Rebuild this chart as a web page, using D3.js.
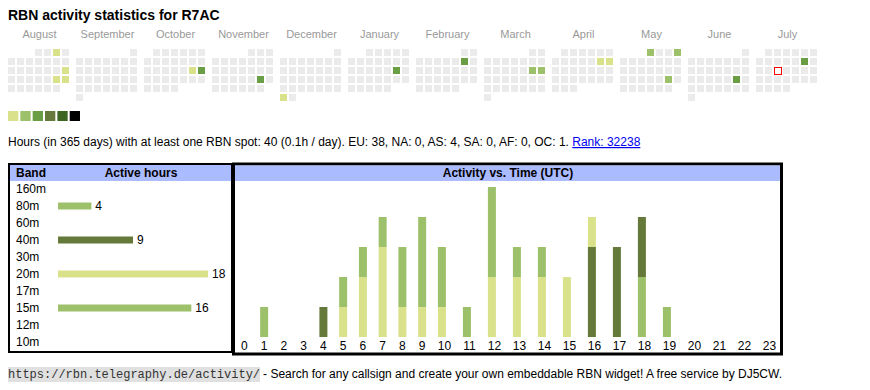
<!DOCTYPE html>
<html>
<head>
<meta charset="utf-8">
<script src="https://cdn.jsdelivr.net/npm/d3@7"></script>
<style>
  body { margin: 0; background: #fff; }
  svg text { font-family: "Liberation Sans", Arial, sans-serif; }
  svg text.mono { font-family: "Liberation Mono", "DejaVu Sans Mono", monospace; }
</style>
</head>
<body>
<script>
const width = 870;
const height = 390;

// data
const callsign = "R7AC";
const calStart = new Date(2024, 7, 1);
const calEnd = new Date(2025, 7, 1);
const today = "2025-07-16";
const activeDays = [
  ["2024-08-03", 1], ["2024-08-18", 1], ["2024-08-24", 1], ["2024-08-25", 1],
  ["2024-10-19", 1], ["2024-10-20", 3], ["2024-11-23", 3], ["2024-12-30", 1],
  ["2025-01-18", 3], ["2025-02-08", 3], ["2025-03-15", 2], ["2025-03-16", 2],
  ["2025-04-12", 1], ["2025-04-13", 1], ["2025-05-01", 2], ["2025-05-04", 2],
  ["2025-05-24", 2], ["2025-06-21", 3], ["2025-07-12", 3]
];
const levelColors = ["#d9e18a", "#9dc06a", "#6a9e45", "#657a3a", "#3b6520", "#000000"];

const bands = ["160m", "80m", "60m", "40m", "30m", "20m", "17m", "15m", "12m", "10m"];
const bandHours = [0, 4, 0, 9, 0, 18, 0, 16, 0, 0];
const bandColors = { "80m": "#9dc06a", "40m": "#657a3a", "20m": "#d9e18a", "15m": "#9dc06a" };

const hours = d3.range(24);
const hours80 = [0,1,0,0,0,0,0,0,0,0,0,0,0,0,0,0,0,0,2,1,0,0,0,0];
const hours40 = [0,0,0,0,1,0,0,0,0,0,0,0,0,0,0,0,3,3,2,0,0,0,0,0];
const hours20 = [0,0,0,0,0,1,2,3,1,1,1,0,2,2,2,2,1,0,0,0,0,0,0,0];
const hours15 = [0,0,0,0,0,1,1,1,2,3,2,1,3,1,1,0,0,0,0,0,0,0,0,0];

const summary = "Hours (in 365 days) with at least one RBN spot: 40 (0.1h / day). EU: 38, NA: 0, AS: 4, SA: 0, AF: 0, OC: 1. ";
const rankText = "Rank: 32238";

const svg = d3.select("body")
    .append("svg")
    .attr("width", width)
    .attr("height", height);

// title
svg.append("text")
    .attr("x", 8).attr("y", 20)
    .attr("font-size", 14).attr("font-weight", "bold")
    .text("RBN activity statistics for " + callsign);

// calendar
const fmt = d3.timeFormat("%Y-%m-%d");
const levelOf = new Map(activeDays);
const months = d3.timeMonths(calStart, calEnd);
const monthX = d3.scaleBand().domain(d3.range(months.length)).range([8, 819]).paddingInner(5 / 68);
const dayX = d3.scaleBand().domain(d3.range(7)).range([0, 61]).paddingInner(2 / 9);
const weekY = d3.scaleBand().domain(d3.range(6)).range([49, 101]).paddingInner(2 / 9);

const monthG = svg.selectAll("g.month")
    .data(months)
    .enter()
    .append("g")
    .attr("class", "month")
    .attr("transform", (d, i) => `translate(${monthX(i)},0)`);

monthG.append("text")
    .attr("x", monthX.bandwidth() / 2)
    .attr("y", 38)
    .attr("text-anchor", "middle")
    .attr("font-size", 11)
    .attr("fill", "#999")
    .text(d3.timeFormat("%B"));

monthG.selectAll("rect.day")
    .data(m => d3.timeDays(m, d3.timeMonth.offset(m, 1)).map(d => ({ m, d })))
    .enter()
    .append("rect")
    .attr("class", "day")
    .attr("x", o => dayX((o.d.getDay() + 6) % 7))
    .attr("y", o => weekY(d3.timeMonday.count(o.m, o.d)))
    .attr("width", dayX.bandwidth())
    .attr("height", weekY.bandwidth())
    .attr("fill", o => {
        const lv = levelOf.get(fmt(o.d));
        return lv ? levelColors[lv - 1] : "#ebebeb";
    })
    .attr("stroke", o => fmt(o.d) === today ? "red" : "none")
    .attr("stroke-width", 1)
    .each(function(o) {
        if (fmt(o.d) === today) {
            const r = d3.select(this);
            r.attr("x", +r.attr("x") + 0.5).attr("y", +r.attr("y") + 0.5).attr("fill", "#fff");
        }
    });

// legend
const legendX = d3.scaleBand().domain(d3.range(levelColors.length)).range([8, 80]).paddingInner(2 / 12);
svg.selectAll("rect.legend")
    .data(levelColors)
    .enter()
    .append("rect")
    .attr("class", "legend")
    .attr("x", (d, i) => legendX(i))
    .attr("y", 111)
    .attr("width", legendX.bandwidth())
    .attr("height", 10)
    .attr("fill", d => d);

// summary line
const sumText = svg.append("text")
    .attr("x", 8).attr("y", 146)
    .attr("font-size", 12);
sumText.append("tspan").text(summary);
sumText.append("tspan")
    .attr("fill", "#0000ee")
    .attr("text-decoration", "underline")
    .style("text-decoration", "underline")
    .text(rankText);

// band panel
const bandG = svg.append("g");
bandG.append("rect")
    .attr("x", 9).attr("y", 164).attr("width", 223).attr("height", 188)
    .attr("fill", "#fff").attr("stroke", "#000").attr("stroke-width", 2);
bandG.append("rect")
    .attr("x", 10).attr("y", 165).attr("width", 221).attr("height", 16)
    .attr("fill", "#abbbff");
bandG.append("text")
    .attr("x", 16).attr("y", 177)
    .attr("font-size", 12).attr("font-weight", "bold")
    .text("Band");
bandG.append("text")
    .attr("x", 141).attr("y", 177)
    .attr("text-anchor", "middle")
    .attr("font-size", 12).attr("font-weight", "bold")
    .text("Active hours");

const bandY = d3.scalePoint().domain(bands).range([189, 342]);
const bandX = d3.scaleLinear().domain([0, 18]).range([58, 208]);

bandG.selectAll("text.band")
    .data(bands)
    .enter()
    .append("text")
    .attr("class", "band")
    .attr("x", 16)
    .attr("y", d => bandY(d) + 4)
    .attr("font-size", 12)
    .text(d => d);

const bandData = bands.map((b, i) => ({ band: b, hours: bandHours[i] })).filter(d => d.hours > 0);
bandG.selectAll("rect.bar")
    .data(bandData)
    .enter()
    .append("rect")
    .attr("class", "bar")
    .attr("x", bandX(0))
    .attr("y", d => bandY(d.band) - 3.5)
    .attr("width", d => bandX(d.hours) - bandX(0))
    .attr("height", 7)
    .attr("fill", d => bandColors[d.band]);
bandG.selectAll("text.val")
    .data(bandData)
    .enter()
    .append("text")
    .attr("class", "val")
    .attr("x", d => bandX(d.hours) + 4)
    .attr("y", d => bandY(d.band) + 4)
    .attr("font-size", 12)
    .text(d => d.hours);

// activity vs time
const actG = svg.append("g");
actG.append("rect")
    .attr("x", 233.5).attr("y", 164).attr("width", 548).attr("height", 190)
    .attr("fill", "#fff").attr("stroke", "#000").attr("stroke-width", 3);
actG.append("rect")
    .attr("x", 235).attr("y", 165.5).attr("width", 545).attr("height", 15.5)
    .attr("fill", "#abbbff");
actG.append("text")
    .attr("x", 508).attr("y", 177)
    .attr("text-anchor", "middle")
    .attr("font-size", 12).attr("font-weight", "bold")
    .text("Activity vs. Time (UTC)");

// columns for 1-digit hours are narrower than 2-digit ones
const colX = d3.scaleLinear().domain([0, 10, 24]).range([234.4, 431.9, 781.9]);
const countY = d3.scaleLinear().domain([0, 5]).range([337, 187]);

const hourRows = hours.map(h => ({ hour: h, "80m": hours80[h], "40m": hours40[h], "20m": hours20[h], "15m": hours15[h] }));
const stack = d3.stack().keys(["80m", "40m", "20m", "15m"]);
const series = stack(hourRows);

actG.selectAll("g.series")
    .data(series)
    .enter()
    .append("g")
    .attr("class", "series")
    .attr("fill", s => bandColors[s.key])
    .selectAll("rect")
    .data(s => s.filter(d => d[1] > d[0]))
    .enter()
    .append("rect")
    .attr("x", d => colX(d.data.hour) + 6)
    .attr("y", d => countY(d[1]))
    .attr("width", 8)
    .attr("height", d => countY(d[0]) - countY(d[1]));

actG.selectAll("text.hour")
    .data(hours)
    .enter()
    .append("text")
    .attr("class", "hour")
    .attr("x", h => (colX(h) + colX(h + 1)) / 2)
    .attr("y", 350)
    .attr("text-anchor", "middle")
    .attr("font-size", 12)
    .text(h => h);

// footer
const url = "https://rbn.telegraphy.de/activity/";
const footG = svg.append("g");
const urlBg = footG.append("rect")
    .attr("x", 8).attr("y", 367).attr("height", 15)
    .attr("fill", "#e0e0e0");
const urlText = footG.append("text")
    .attr("class", "mono")
    .attr("x", 8).attr("y", 378)
    .attr("font-size", 12)
    .attr("fill", "#333")
    .text(url);
const urlW = urlText.node().getComputedTextLength();
urlBg.attr("width", urlW);
footG.append("text")
    .attr("x", 8 + urlW + 3).attr("y", 378)
    .attr("font-size", 12)
    .text("- Search for any callsign and create your own embeddable RBN widget! A free service by DJ5CW.");
</script>
</body>
</html>
